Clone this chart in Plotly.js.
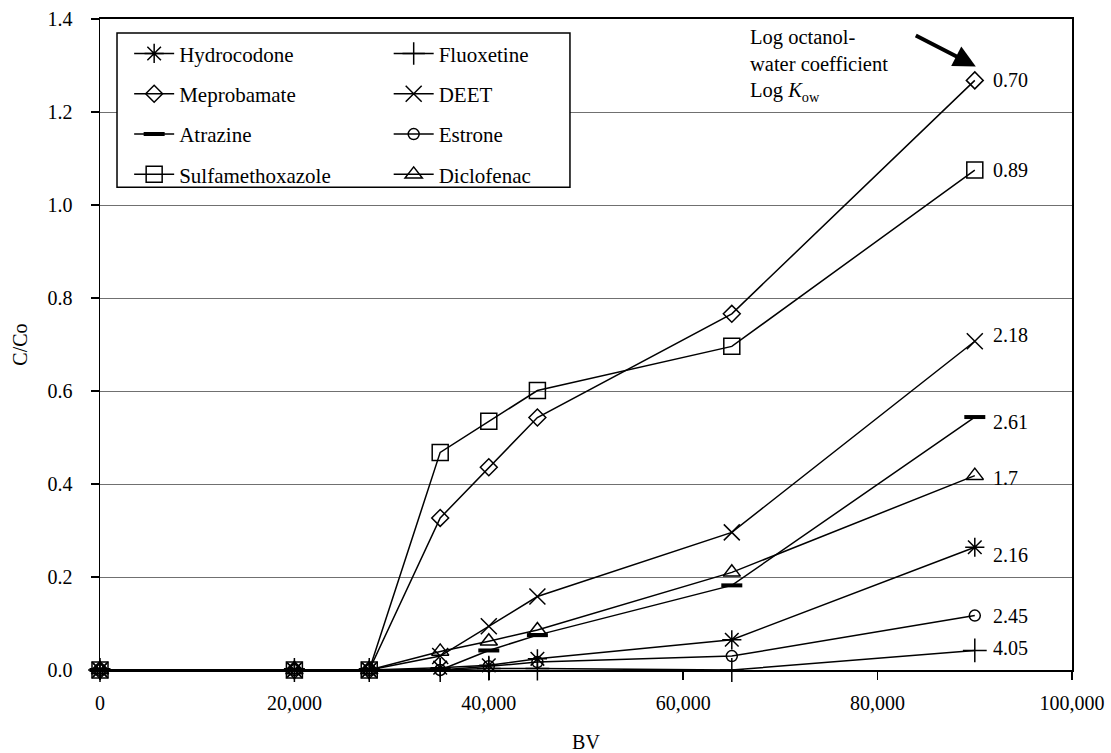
<!DOCTYPE html>
<html>
<head>
<meta charset="utf-8">
<script src="https://cdn.plot.ly/plotly-3.0.1.min.js"></script>
<style>html,body{margin:0;padding:0;background:#fff;}#chart{width:1111px;height:753px;}</style>
</head>
<body>
<div id="chart"></div>
<script>
// ---- data ----
const bv = [0, 20000, 27700, 35000, 40000, 45000, 65000, 90000];
const hydrocodone      = [0, 0, 0, 0.005, 0.010, 0.024, 0.065, 0.264];
const meprobamate      = [0, 0, 0, 0.327, 0.436, 0.543, 0.766, 1.268];
const atrazine         = [0, 0, 0, 0.000, 0.042, 0.075, 0.182, 0.544];
const sulfamethoxazole = [0, 0, 0, 0.468, 0.535, 0.601, 0.696, 1.075];
const fluoxetine       = [0, 0, 0, 0.000, 0.003, 0.003, 0.000, 0.042];
const deet             = [0, 0, 0, 0.030, 0.094, 0.158, 0.296, 0.707];
const estrone          = [0, 0, 0, 0.000, 0.008, 0.017, 0.030, 0.117];
const diclofenac       = [0, 0, 0, 0.040, 0.062, 0.086, 0.210, 0.418];
const logKowLabels = {
  Hydrocodone: "2.16", Meprobamate: "0.70", Atrazine: "2.61", Sulfamethoxazole: "0.89",
  Fluoxetine: "4.05", DEET: "2.18", Estrone: "2.45", Diclofenac: "1.7"
};
const xTickVals = [0, 20000, 40000, 60000, 80000, 100000];
const yTickVals = [0, 0.2, 0.4, 0.6, 0.8, 1.0, 1.2, 1.4];

// ---- styling ----
const FONT = "Liberation Serif, Times New Roman, Times, serif";
const series = [
  {name: "Hydrocodone", y: hydrocodone, symbol: "asterisk-open", size: 16, mlw: 1.5, legend: "legend", dy: -8},
  {name: "Meprobamate", y: meprobamate, symbol: "diamond-open", size: 13, mlw: 1.5, legend: "legend", dy: 0},
  {name: "Atrazine", y: atrazine, symbol: "line-ew-open", size: 15, mlw: 4, legend: "legend", dy: -5},
  {name: "Sulfamethoxazole", y: sulfamethoxazole, symbol: "square-open", size: 16, mlw: 1.5, legend: "legend", dy: 0},
  {name: "Fluoxetine", y: fluoxetine, symbol: "cross-thin-open", size: 17, mlw: 1.5, legend: "legend2", dy: 2},
  {name: "DEET", y: deet, symbol: "x-thin-open", size: 16, mlw: 1.5, legend: "legend2", dy: 6},
  {name: "Estrone", y: estrone, symbol: "circle-open", size: 11, mlw: 1.5, legend: "legend2", dy: 0},
  {name: "Diclofenac", y: diclofenac, symbol: "triangle-up-open", size: 15, mlw: 1.5, legend: "legend2", dy: -2}
];

const traces = series.map(s => ({
  type: "scatter",
  mode: "lines+markers",
  name: s.name,
  x: bv,
  y: s.y,
  legend: s.legend,
  legendgroup: s.name,
  cliponaxis: false,
  line: {color: "#000", width: 1.5},
  marker: {symbol: s.symbol, size: s.size, color: "#000", line: {color: "#000", width: s.mlw}}
}));

const lastIdx = bv.length - 1;
const annotations = series.map(s => ({
  x: bv[lastIdx], y: s.y[lastIdx], xref: "x", yref: "y",
  text: logKowLabels[s.name], showarrow: false,
  xanchor: "left", yanchor: "middle", xshift: 16, yshift: s.dy,
  font: {family: FONT, size: 20, color: "#000"}
}));
annotations.push({
  x: bv[lastIdx], y: meprobamate[lastIdx], xref: "x", yref: "y",
  text: " ", showarrow: true, ax: -62, ay: -32, axref: "pixel", ayref: "pixel",
  xshift: 1, yshift: 14,
  arrowhead: 2, arrowsize: 1.1, arrowwidth: 4, arrowcolor: "#000", standoff: 0,
  font: {family: FONT, size: 2, color: "#fff"}
});
annotations.push({
  x: 0.667, y: 0.993, xref: "paper", yref: "paper", xanchor: "left", yanchor: "top",
  align: "left", showarrow: false,
  text: "Log octanol-<br>water coefficient<br>Log <i>K</i><sub>ow</sub>",
  font: {family: FONT, size: 20.5, color: "#000"}
});

const legendCommon = {
  y: 0.978, xanchor: "left", yanchor: "top",
  bgcolor: "rgba(0,0,0,0)", borderwidth: 0, tracegroupgap: 10, itemwidth: 40,
  traceorder: "grouped", font: {family: FONT, size: 21, color: "#000"}
};

const layout = {
  width: 1111, height: 753,
  margin: {l: 100, r: 39, t: 19, b: 83},
  paper_bgcolor: "#fff", plot_bgcolor: "#fff",
  font: {family: FONT, size: 20, color: "#000"},
  showlegend: true,
  legend: Object.assign({x: 0.030}, legendCommon),
  legend2: Object.assign({x: 0.297}, legendCommon),
  xaxis: {
    range: [0, 100000], tickvals: xTickVals, tickformat: ",d",
    ticks: "outside", ticklen: 8, tickwidth: 1.5, tickcolor: "#000",
    showline: true, linecolor: "#000", linewidth: 2, mirror: true,
    showgrid: false, zeroline: false, ticklabelstandoff: 6,
    title: {text: "BV", font: {family: FONT, size: 20}, standoff: 24},
    tickfont: {family: FONT, size: 20}
  },
  yaxis: {
    range: [0, 1.4], tickvals: yTickVals, tickformat: ".1f",
    ticks: "outside", ticklen: 8, tickwidth: 1.5, tickcolor: "#000",
    showline: true, linecolor: "#000", linewidth: 1.5, mirror: true,
    showgrid: true, gridcolor: "#707070", gridwidth: 1, zeroline: false,
    ticklabelstandoff: 14,
    title: {text: "C/Co", font: {family: FONT, size: 20}, standoff: 14},
    tickfont: {family: FONT, size: 20}
  },
  shapes: [{
    type: "rect", xref: "paper", yref: "paper",
    x0: 0.0175, x1: 0.4835, y0: 0.7417, y1: 0.9785,
    line: {color: "#000", width: 1.5}, fillcolor: "#fff", layer: "above"
  }],
  annotations: annotations
};

Plotly.newPlot("chart", traces, layout, {displayModeBar: false, staticPlot: true});
</script>
</body>
</html>
